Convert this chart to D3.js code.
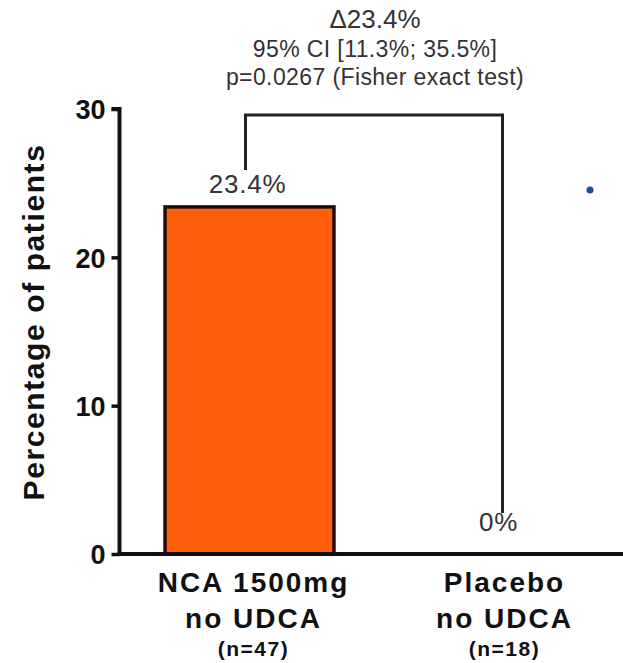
<!DOCTYPE html>
<html>
<head>
<meta charset="utf-8">
<script src="https://cdn.jsdelivr.net/npm/d3@7"></script>
<style>
  html, body { margin: 0; padding: 0; background: #fff; }
  svg { display: block; }
  text { font-family: "Liberation Sans", Arial, Helvetica, sans-serif; }
</style>
</head>
<body>
<svg id="chart" width="623" height="663"></svg>
<script>
// Responder rates by treatment arm (percentage of patients)
const groups = ["NCA 1500mg", "Placebo"];
const groupLine2 = ["no UDCA", "no UDCA"];
const groupN = ["(n=47)", "(n=18)"];
const values = [23.4, 0];
const valueLabels = ["23.4%", "0%"];
const yTicks = [0, 10, 20, 30];
const comparisonLines = ["\u039423.4%", "95% CI [11.3%; 35.5%]", "p=0.0267 (Fisher exact test)"];

const svg = d3.select("#chart");
const W = 623, H = 663;
const axisX = 119.5, axisY = 554;

const y = d3.scaleLinear().domain([0, 30]).range([axisY, 109]);
const x = d3.scaleBand().domain(groups).range([124, 626]).paddingInner(0.327).paddingOuter(0.1635);

// Bars
svg.selectAll("rect.bar")
  .data(groups)
  .join("rect")
  .attr("class", "bar")
  .attr("x", d => x(d))
  .attr("width", x.bandwidth())
  .attr("y", (d, i) => y(values[i]))
  .attr("height", (d, i) => y(0) - y(values[i]))
  .attr("fill", "#ff5e0c")
  .attr("stroke", "#1e0d0d")
  .attr("stroke-width", 3.5)
  .style("display", (d, i) => values[i] > 0 ? null : "none");

// Y axis
const yAxis = d3.axisLeft(y).tickValues(yTicks).tickSize(8).tickPadding(6).tickFormat(d3.format("d"));
const gy = svg.append("g").attr("transform", `translate(${axisX},0)`).call(yAxis);
gy.select(".domain").attr("stroke", "#111").attr("stroke-width", 4).attr("d", `M-8,${y(30)}H0V${axisY}`);
gy.selectAll(".tick line").attr("stroke", "#111").attr("stroke-width", 3.5);
gy.selectAll(".tick text")
  .attr("fill", "#111")
  .style("font-size", "27px")
  .style("font-weight", "bold")
  .attr("dy", "0.36em");

// X axis baseline
svg.append("line")
  .attr("x1", axisX - 2).attr("x2", W)
  .attr("y1", axisY).attr("y2", axisY)
  .attr("stroke", "#111").attr("stroke-width", 4);

// Y axis title
svg.append("text")
  .attr("transform", `translate(44,${322}) rotate(-90)`)
  .attr("text-anchor", "middle")
  .attr("fill", "#111")
  .style("font-size", "30px")
  .style("font-weight", "bold")
  .style("letter-spacing", "1.6px")
  .text("Percentage of patients");

// Category labels
const cat = svg.selectAll("g.cat").data(groups).join("g")
  .attr("class", "cat")
  .attr("transform", d => `translate(${x(d) + x.bandwidth() / 2 + 4},0)`);
cat.append("text").attr("y", 592).attr("text-anchor", "middle")
  .attr("fill", "#111").style("font-size", "28px").style("font-weight", "bold").style("letter-spacing", "2px")
  .text(d => d);
cat.append("text").attr("y", 628).attr("text-anchor", "middle")
  .attr("fill", "#111").style("font-size", "28px").style("font-weight", "bold").style("letter-spacing", "2px")
  .text((d, i) => groupLine2[i]);
cat.append("text").attr("y", 656).attr("text-anchor", "middle")
  .attr("fill", "#111").style("font-size", "21px").style("font-weight", "bold").style("letter-spacing", "1.5px")
  .text((d, i) => groupN[i]);

// Value labels
svg.selectAll("text.val").data(groups).join("text")
  .attr("class", "val")
  .attr("x", d => x(d) + x.bandwidth() / 2 - 2)
  .attr("y", (d, i) => y(values[i]) - 14 - (values[i] === 0 ? 9 : 0))
  .attr("text-anchor", "middle")
  .attr("fill", "#333")
  .style("font-size", "26px")
  .style("letter-spacing", "0.8px")
  .text((d, i) => valueLabels[i]);

// Comparison bracket
const bx1 = x(groups[0]) + x.bandwidth() / 2 - 4;
const bx2 = x(groups[1]) + x.bandwidth() / 2 + 2;
const by = 115;
svg.append("path")
  .attr("d", `M${bx1},${y(values[0]) - 37}V${by}H${bx2}V${y(values[1]) - 41}`)
  .attr("fill", "none")
  .attr("stroke", "#222")
  .attr("stroke-width", 3);

// Comparison annotation
const ann = svg.append("g").attr("transform", "translate(375,0)");
ann.append("text").attr("y", 28).attr("text-anchor", "middle").attr("fill", "#333")
  .style("font-size", "26px").text(comparisonLines[0]);
ann.append("text").attr("y", 57).attr("text-anchor", "middle").attr("fill", "#333")
  .style("font-size", "23px").style("letter-spacing", "0.4px").text(comparisonLines[1]);
ann.append("text").attr("y", 85).attr("text-anchor", "middle").attr("fill", "#333")
  .style("font-size", "23px").style("letter-spacing", "0.4px").text(comparisonLines[2]);

// Marker dot
svg.append("circle").attr("cx", 590).attr("cy", 190).attr("r", 3.5).attr("fill", "#1d4f8f");
</script>
</body>
</html>
